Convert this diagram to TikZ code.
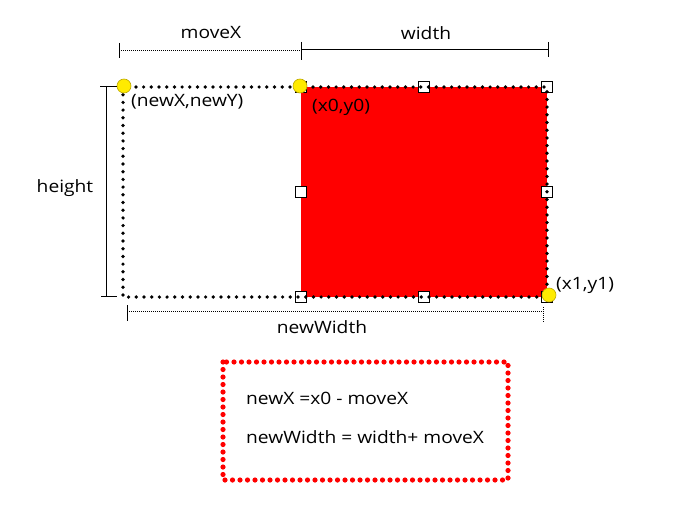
\documentclass[tikz,border=0pt]{standalone}
\usepackage{fontspec}
\setmainfont[FakeStretch=1.13]{Open Sans}
\definecolor{pinedge}{RGB}{190,170,0}
\definecolor{pinfill}{RGB}{255,235,0}

\begin{document}
\begin{tikzpicture}[x=1pt,y=-1pt,
    handle/.style={draw, fill=white, line width=0.9pt, minimum size=11pt, inner sep=0pt},
    pin/.style={circle, fill=pinfill, draw=pinedge, line width=0.6pt, minimum size=14pt, inner sep=0pt},
    bigdots/.style={line width=3.7pt, line cap=round, dash pattern=on 0pt off 7.7pt},
    reddots/.style={red, line width=5.2pt, line cap=round, dash pattern=on 0pt off 7.5pt},
    dimline/.style={line width=0.8pt},
    dimdots/.style={line width=0.7pt, dash pattern=on 1pt off 1pt},
    txt/.style={font=\fontsize{17}{20}\selectfont, inner sep=0pt}
  ]

    \useasboundingbox (0,0) rectangle (700,524);

    \coordinate (newXY) at (123,87);
    \coordinate (x0y0) at (301,87);
    \coordinate (x1y1) at (547,297);

    % red area and its handles
    \fill[red] (x0y0) rectangle (x1y1);
    \foreach \hx/\hy [count=\i] in {301/87, 424/87, 547/87, 547/192, 547/297, 424/297, 301/297, 301/192}
        \node[handle] (h\i) at (\hx,\hy) {};

    \draw[bigdots] (newXY) rectangle (x1y1);

    \node[pin] (pNew) at (124,86) {};
    \node[pin] (pX0) at (300,86) {};
    \node[pin] (pX1) at (549,295) {};

    \node[txt, anchor=west] (lNew) at (131,102) {(newX,newY)};
    \node[txt, anchor=west] (lX0) at (312,107) {(x0,y0)};
    \node[txt, anchor=west] (lX1) at (556,285) {(x1,y1)};

    % dimensions
    \draw[dimdots] (119,50) -- (301,50);
    \draw[dimline] (119,43) -- (119,58);
    \draw[dimline] (301,42) -- (301,60);
    \draw[dimline] (301,49) -- (548,49);
    \draw[dimline] (548,42) -- (548,57);
    \node[txt] (moveX) at (211,33) {moveX};
    \node[txt] (width) at (426,33) {width};

    \draw[dimline] (106,86) -- (106,296);
    \draw[dimline] (100,86) -- (117,86);
    \draw[dimline] (101,296) -- (117,296);
    \node[txt] (height) at (65,188) {height};

    \draw[dimdots] (127,311) -- (543,311);
    \draw[dimline] (127,305) -- (127,321);
    \draw[dimdots] (543,307) -- (543,323);
    \node[txt] (newWidth) at (322,327) {newWidth};

    % formula box
    \draw[reddots] (223,362) rectangle (508,480);
    \node[txt, anchor=west] (eq1) at (246,398) {newX =x0 - moveX};
    \node[txt, anchor=west] (eq2) at (246,437) {newWidth = width+ moveX};

\end{tikzpicture}
\end{document}
